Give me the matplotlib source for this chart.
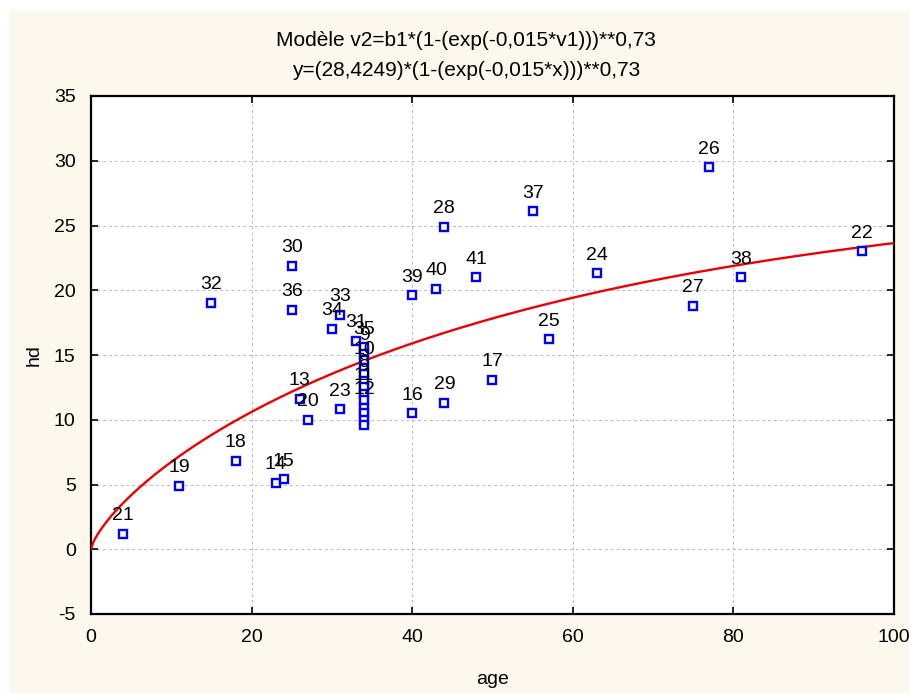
import numpy as np
import matplotlib
matplotlib.use("Agg")
import matplotlib.pyplot as plt
from matplotlib.patches import Rectangle

plt.rcParams['font.family'] = ['Liberation Sans', 'DejaVu Sans']
plt.rcParams['axes.unicode_minus'] = False

# case id, age, hd
case_ids = [21, 19, 18, 14, 15, 32, 30, 36, 34, 33, 31, 13, 20, 23, 16, 29,
            39, 40, 28, 37, 41, 17, 25, 24, 26, 27, 38, 22,
            35, 9, 3, 10, 1, 8, 4, 11, 2, 12, 5, 6, 7]
age = [4, 11, 18, 23, 24, 15, 25, 25, 30, 31, 33, 26, 27, 31, 40, 44,
       40, 43, 44, 55, 48, 50, 57, 63, 77, 75, 81, 96,
       34, 34, 34, 34, 34, 34, 34, 34, 34, 34, 34, 34, 34]
hd = [1.2, 4.9, 6.8, 5.1, 5.4, 19.0, 21.9, 18.5, 17.0, 18.1, 16.1, 11.6, 10.0, 10.8, 10.5, 11.3,
      19.6, 20.1, 24.9, 26.1, 21.0, 13.1, 16.2, 21.3, 29.5, 18.8, 21.0, 23.0,
      15.6, 15.1, 14.6, 14.0, 13.5, 13.0, 12.5, 12.0, 11.5, 10.9, 10.5, 10.0, 9.6]
# ids whose label is hidden under the others in the original
hidden_ids = [1, 2, 3, 4, 5, 6, 7]

b1 = 28.4249
k = 0.015
p = 0.73

fig = plt.figure(figsize=(9.09, 6.93), dpi=100, facecolor='white')
fig.patches.append(Rectangle((9 / 909, 0), 1, 1 - 11 / 693, transform=fig.transFigure,
                             facecolor='#fdf8ed', edgecolor='none', zorder=-1))
ax = fig.add_axes([91 / 909, 1 - 614 / 693, (894 - 91) / 909, (614 - 96) / 693])
ax.set_facecolor('white')

xs = np.linspace(0, 100, 400)
ax.plot(xs, b1 * (1 - np.exp(-k * xs)) ** p, color='#ee0000', lw=1.7, zorder=3)
ax.plot(age, hd, linestyle='none', marker='s', markersize=6.3, markerfacecolor='white',
        markeredgecolor='#0000ff', markeredgewidth=1.7, zorder=4)

for cid, a, h in zip(case_ids, age, hd):
    if cid in hidden_ids:
        continue
    ax.annotate(str(cid), (a, h), xytext=(0, 7), textcoords='offset points',
                ha='center', va='bottom', fontsize=14, zorder=5)

ax.set_xlim(0, 100)
ax.set_ylim(-5, 35)
ax.set_xticks(range(0, 101, 20))
ax.set_yticks(range(-5, 36, 5))
ax.tick_params(direction='in', length=5, width=1.2, labelsize=14, top=True, right=True, pad=11)
ax.grid(True, color='#bbbbbb', linestyle=(0, (3, 3)), linewidth=0.7)
for s in ax.spines.values():
    s.set_linewidth(1.6)

ax.set_xlabel('age', fontsize=14, labelpad=18)
ax.set_ylabel('hd', fontsize=14, labelpad=8)

fig.text(466 / 909, 1 - 40 / 693, 'Modèle v2=b1*(1-(exp(-0,015*v1)))**0,73',
         ha='center', va='center', fontsize=15)
fig.text(466 / 909, 1 - 70 / 693, 'y=(28,4249)*(1-(exp(-0,015*x)))**0,73',
         ha='center', va='center', fontsize=15)

fig.savefig('out.png', dpi=100, facecolor=fig.get_facecolor())
